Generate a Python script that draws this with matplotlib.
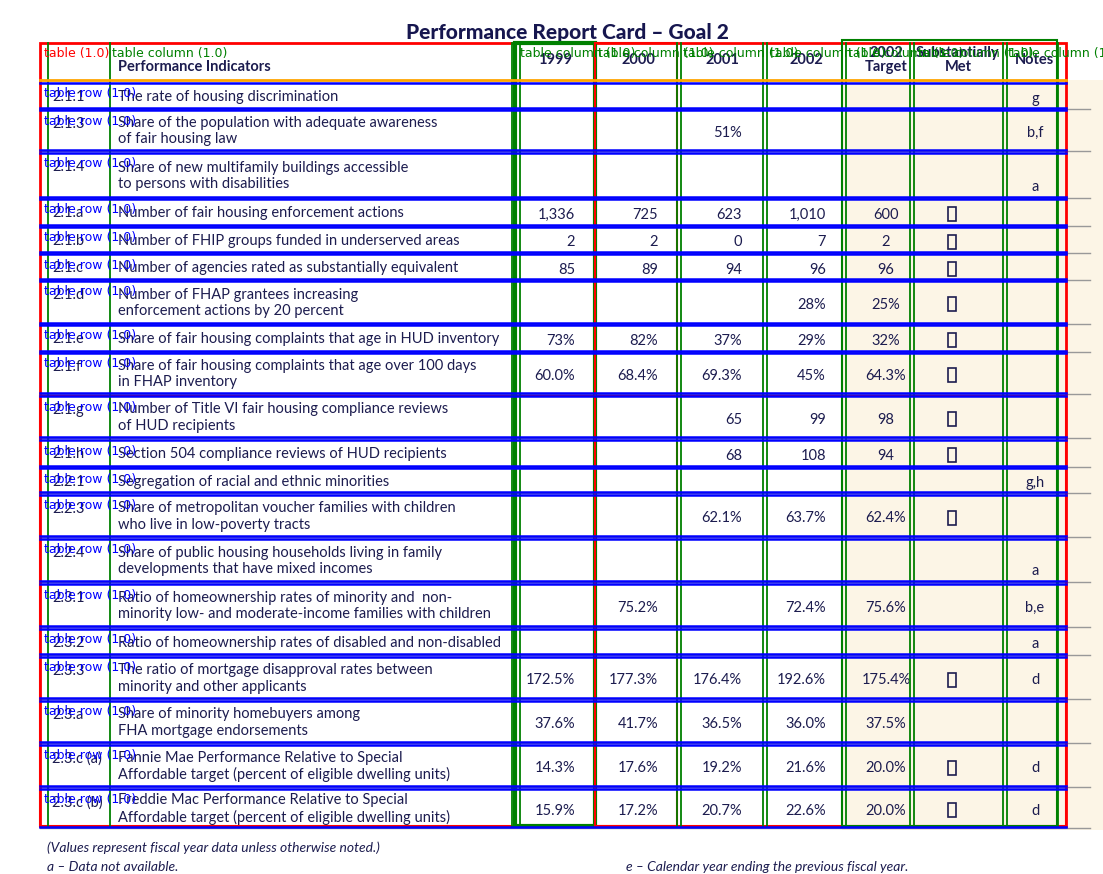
import matplotlib.pyplot as plt
from matplotlib.patches import Rectangle

# --- Table content ---
ids = ["2.1.1", "2.1.3", "2.1.4", "2.1.a", "2.1.b", "2.1.c", "2.1.d", "2.1.e", "2.1.f",
       "2.1.g", "2.1.h", "2.2.1", "2.2.3", "2.2.4", "2.3.1", "2.3.2", "2.3.3", "2.3.a",
       "2.3.c (a)", "2.3.c (b)"]
indicators = [
    "The rate of housing discrimination",
    "Share of the population with adequate awareness\nof fair housing law",
    "Share of new multifamily buildings accessible\nto persons with disabilities",
    "Number of fair housing enforcement actions",
    "Number of FHIP groups funded in underserved areas",
    "Number of agencies rated as substantially equivalent",
    "Number of FHAP grantees increasing\nenforcement actions by 20 percent",
    "Share of fair housing complaints that age in HUD inventory",
    "Share of fair housing complaints that age over 100 days\nin FHAP inventory",
    "Number of Title VI fair housing compliance reviews\nof HUD recipients",
    "Section 504 compliance reviews of HUD recipients",
    "Segregation of racial and ethnic minorities",
    "Share of metropolitan voucher families with children\nwho live in low-poverty tracts",
    "Share of public housing households living in family\ndevelopments that have mixed incomes",
    "Ratio of homeownership rates of minority and  non-\nminority low- and moderate-income families with children",
    "Ratio of homeownership rates of disabled and non-disabled",
    "The ratio of mortgage disapproval rates between\nminority and other applicants",
    "Share of minority homebuyers among\nFHA mortgage endorsements",
    "Fannie Mae Performance Relative to Special\nAffordable target (percent of eligible dwelling units)",
    "Freddie Mac Performance Relative to Special\nAffordable target (percent of eligible dwelling units)",
]
v1999 = ["", "", "", "1,336", "2", "85", "", "73%", "60.0%", "", "", "", "", "", "", "", "172.5%", "37.6%", "14.3%", "15.9%"]
v2000 = ["", "", "", "725", "2", "89", "", "82%", "68.4%", "", "", "", "", "", "75.2%", "", "177.3%", "41.7%", "17.6%", "17.2%"]
v2001 = ["", "51%", "", "623", "0", "94", "", "37%", "69.3%", "65", "68", "", "62.1%", "", "", "", "176.4%", "36.5%", "19.2%", "20.7%"]
v2002 = ["", "", "", "1,010", "7", "96", "28%", "29%", "45%", "99", "108", "", "63.7%", "", "72.4%", "", "192.6%", "36.0%", "21.6%", "22.6%"]
target = ["", "", "", "600", "2", "96", "25%", "32%", "64.3%", "98", "94", "", "62.4%", "", "75.6%", "", "175.4%", "37.5%", "20.0%", "20.0%"]
met = [0, 0, 0, 1, 1, 1, 1, 1, 1, 1, 1, 0, 1, 0, 0, 0, 1, 0, 1, 1]
notes = ["g", "b,f", "a", "", "", "", "", "", "", "", "", "g,h", "", "a", "b,e", "a", "d", "", "d", "d"]
headers = ["Performance Indicators", "1999", "2000", "2001", "2002", "2002\nTarget", "Substantially\nMet", "Notes"]

# --- Layout (pixels) ---
row_top = [83, 110, 153, 199, 227, 254, 281, 325, 353, 396, 440, 468, 495, 539, 584, 629, 657, 701, 745, 789]
row_bot = [108, 150, 197, 225, 252, 279, 323, 351, 393, 437, 466, 492, 536, 581, 626, 654, 698, 742, 786, 827]
num_right = [575, 658, 742, 826]
navy = "#1c1c4f"
FONT = "Lato"

fig = plt.figure(figsize=(11.03, 8.74), dpi=100)
ax = fig.add_axes([0, 0, 1, 1])
ax.set_xlim(0, 1103)
ax.set_ylim(874, 0)
ax.axis("off")

ax.add_patch(Rectangle((842, 80), 261, 750, facecolor="#fcf5e6", edgecolor="none", zorder=0))
ax.text(567, 32, "Performance Report Card \u2013 Goal 2", ha="center", va="center",
        fontsize=15, fontweight="black", color="#16164f", family=FONT)

# header
ax.text(118, 67, headers[0], ha="left", va="center", fontsize=10.5, fontweight="bold", color=navy, family=FONT)
for cx, h in zip([555, 638, 722, 806, 886, 958, 1034], headers[1:]):
    ax.text(cx, 60, h, ha="center", va="center", fontsize=10.5, fontweight="bold", color=navy,
            family=FONT, linespacing=1.0)

for i in range(len(ids)):
    t, b = row_top[i], row_bot[i]
    mid = (t + b) / 2
    ax.text(52, t + 14, ids[i], ha="left", va="center", fontsize=10.5, color=navy, family=FONT)
    ax.text(118, t + 14 if "\n" not in indicators[i] else mid + 1, indicators[i], ha="left",
            va="center", fontsize=10.5, color=navy, family=FONT, linespacing=1.2)
    for xr, col in zip(num_right, [v1999, v2000, v2001, v2002]):
        if col[i]:
            ax.text(xr, mid + 3, col[i], ha="right", va="center", fontsize=10.5, color=navy, family=FONT)
    if target[i]:
        ax.text(886, mid + 3, target[i], ha="center", va="center", fontsize=10.5, color=navy, family=FONT)
    if met[i]:
        ax.add_patch(Rectangle((948, mid - 5), 8, 14, facecolor="none", edgecolor=navy, lw=1.2))
    if notes[i]:
        ny = b - 10 if notes[i] == "a" and "\n" in indicators[i] else mid + 3
        ax.text(1035, ny, notes[i], ha="center", va="center", fontsize=10.5, color=navy, family=FONT)
    ax.plot([40, 1090], [b + 1, b + 1], color="#999999", lw=1, zorder=1)

# --- annotation overlays ---
ax.add_patch(Rectangle((40, 43), 1026, 783, facecolor="none", edgecolor="red", lw=2, zorder=5))
ax.add_patch(Rectangle((40, 396), 1026, 430, facecolor="none", edgecolor="red", lw=1.5, zorder=5))
ax.add_patch(Rectangle((515, 43), 80, 783, facecolor="none", edgecolor="green", lw=3, zorder=5))
ax.add_patch(Rectangle((595, 43), 82, 783, facecolor="none", edgecolor="red", lw=1.5, zorder=5))
ax.add_patch(Rectangle((842, 40), 215, 786, facecolor="none", edgecolor="green", lw=1.5, zorder=5))
for x in [48, 110, 512, 520, 677, 681, 763, 767, 842, 846, 910, 914, 1003, 1007, 1058]:
    ax.plot([x, x], [43, 826], color="green", lw=1.3, zorder=5)
ax.plot([40, 1066], [80, 80], color="orange", lw=2, zorder=6)
for i in range(len(ids)):
    ax.plot([40, 1066], [row_top[i], row_top[i]], color="blue", lw=1.8, zorder=6)
    ax.plot([40, 1066], [row_bot[i], row_bot[i]], color="blue", lw=1.8, zorder=6)
    ax.text(44, row_top[i] + 11, "table row (1.0)", ha="left", va="center", fontsize=9,
            color="blue", family="DejaVu Sans", zorder=7)
ax.text(44, 54, "table (1.0)", fontsize=9, color="red", va="center", zorder=7)
ax.text(112, 54, "table column (1.0)", fontsize=9, color="green", va="center", zorder=7)
for x in [520, 598, 683, 770, 848, 918, 1008]:
    ax.text(x, 54, "table column (1.0)", fontsize=9, color="green", va="center", zorder=7, clip_on=True)

# footnotes
ax.text(47, 848, "(Values represent fiscal year data unless otherwise noted.)", fontsize=10,
        style="italic", color=navy, family=FONT, va="center")
ax.text(47, 867, "a \u2013 Data not available.", fontsize=10, style="italic", color=navy, family=FONT, va="center")
ax.text(626, 867, "e \u2013 Calendar year ending the previous fiscal year.", fontsize=10, style="italic",
        color=navy, family=FONT, va="center")

fig.savefig("out.png", dpi=100)
